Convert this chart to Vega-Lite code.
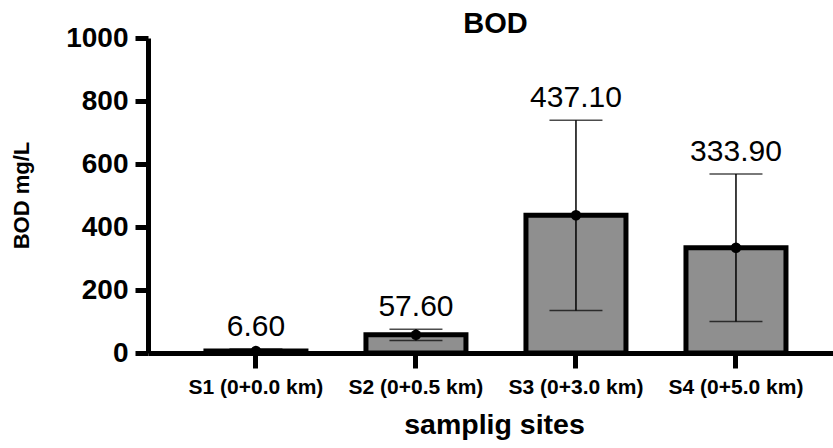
{
  "$schema": "https://vega.github.io/schema/vega-lite/v6.json",
  "autosize": "none",
  "width": 685,
  "height": 315,
  "padding": {"left": 148, "top": 38, "right": 0, "bottom": 95},
  "background": "white",
  "title": {
    "text": "BOD",
    "font": "Liberation Sans",
    "fontSize": 29,
    "fontWeight": "bold",
    "color": "black",
    "anchor": "middle",
    "baseline": "alphabetic",
    "offset": 6,
    "dx": 5,
    "dy": 44
  },
  "data": {
    "values": [
      {"site": "S1 (0+0.0 km)", "mean": 6.6, "lower": 0.2, "upper": 13},
      {"site": "S2 (0+0.5 km)", "mean": 57.6, "lower": 39.6, "upper": 75.6},
      {"site": "S3 (0+3.0 km)", "mean": 437.1, "lower": 135.1, "upper": 739.1},
      {"site": "S4 (0+5.0 km)", "mean": 333.9, "lower": 99.9, "upper": 567.9}
    ]
  },
  "encoding": {
    "x": {
      "field": "site",
      "type": "nominal",
      "sort": null,
      "scale": {"paddingInner": 0.375, "paddingOuter": 0.328, "align": 0.552},
      "axis": {
        "title": "samplig sites",
        "titleFont": "Liberation Sans",
        "titleFontSize": 28.5,
        "titleFontWeight": "bold",
        "titleColor": "black",
        "titleBaseline": "alphabetic",
        "titleY": 80,
        "titleX": 346,
        "labelAngle": 0,
        "labelFont": "Liberation Sans",
        "labelFontSize": 21,
        "labelFontWeight": "bold",
        "labelColor": "black",
        "labelPadding": 8,
        "labelOverlap": false,
        "labelLimit": 0,
        "domainColor": "black",
        "domainWidth": 5,
        "tickColor": "black",
        "tickWidth": 5,
        "tickSize": 15,
        "grid": false
      }
    }
  },
  "layer": [
    {
      "mark": {"type": "bar", "fill": "#8f8f8f", "stroke": "black", "strokeWidth": 5},
      "encoding": {
        "y": {
          "field": "mean",
          "type": "quantitative",
          "scale": {"domain": [0, 1000], "nice": false},
          "axis": {
            "title": "BOD mg/L",
            "titleFont": "Liberation Sans",
            "titleFontSize": 22,
            "titleFontWeight": "bold",
            "titleColor": "black",
            "titleBaseline": "alphabetic",
            "titleAlign": "center",
            "titleAngle": -90,
            "titleX": -120,
            "titleY": 157,
            "values": [0, 200, 400, 600, 800, 1000],
            "format": "d",
            "labelFont": "Liberation Sans",
            "labelFontSize": 28,
            "labelFontWeight": "bold",
            "labelColor": "black",
            "labelPadding": 7,
            "domainColor": "black",
            "domainWidth": 5,
            "tickColor": "black",
            "tickWidth": 5,
            "tickSize": 13,
            "grid": false
          }
        }
      }
    },
    {
      "mark": {"type": "rule", "color": "black", "strokeWidth": 1.5},
      "encoding": {
        "y": {"field": "lower", "type": "quantitative"},
        "y2": {"field": "upper"}
      }
    },
    {
      "mark": {"type": "tick", "color": "black", "size": 53, "thickness": 1.5, "orient": "horizontal"},
      "encoding": {
        "y": {"field": "upper", "type": "quantitative"}
      }
    },
    {
      "mark": {"type": "tick", "color": "black", "size": 53, "thickness": 1.5, "orient": "horizontal"},
      "encoding": {
        "y": {"field": "lower", "type": "quantitative"}
      }
    },
    {
      "mark": {"type": "circle", "color": "black", "opacity": 1, "size": 110},
      "encoding": {
        "y": {"field": "mean", "type": "quantitative"}
      }
    },
    {
      "mark": {"type": "text", "font": "Liberation Sans", "fontSize": 30, "color": "black", "baseline": "alphabetic", "dy": -13},
      "encoding": {
        "y": {"field": "upper", "type": "quantitative"},
        "text": {"field": "mean", "type": "quantitative", "format": ".2f"}
      }
    }
  ],
  "config": {
    "view": {"stroke": null}
  }
}
